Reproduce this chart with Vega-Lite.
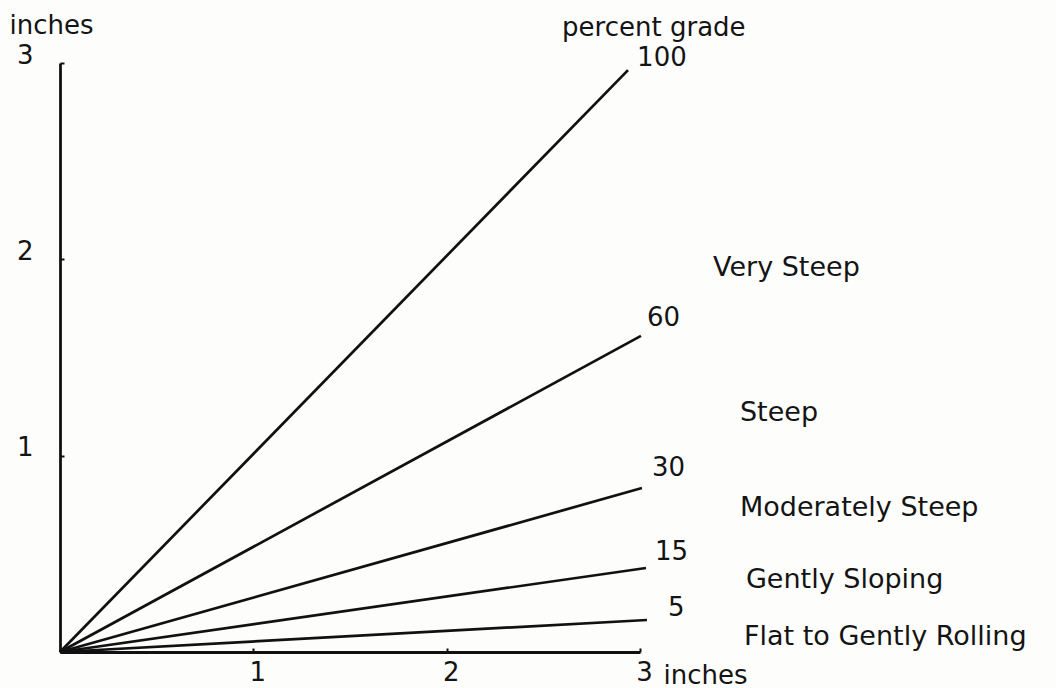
{
  "$schema": "https://vega.github.io/schema/vega-lite/v6.json",
  "width": 580,
  "height": 589,
  "autosize": {"type": "none"},
  "padding": {"left": 60, "top": 63, "right": 416, "bottom": 36},
  "background": "#fdfdfc",
  "config": {
    "view": {"stroke": null},
    "font": "DejaVu Sans",
    "text": {"font": "DejaVu Sans", "color": "#141414"}
  },
  "datasets": {
    "lines": [
      {"grade": "100", "x": 0, "y": 0}, {"grade": "100", "x": 2.938, "y": 2.964},
      {"grade": "60", "x": 0, "y": 0}, {"grade": "60", "x": 3.005, "y": 1.61},
      {"grade": "30", "x": 0, "y": 0}, {"grade": "30", "x": 3.01, "y": 0.835},
      {"grade": "15", "x": 0, "y": 0}, {"grade": "15", "x": 3.031, "y": 0.428},
      {"grade": "5", "x": 0, "y": 0}, {"grade": "5", "x": 3.036, "y": 0.163}
    ],
    "labels": [
      {"text": "percent grade", "x": 2.597, "y": 3.178, "kind": "num"},
      {"text": "100", "x": 2.985, "y": 3.026, "kind": "num"},
      {"text": "60", "x": 3.036, "y": 1.701, "kind": "num"},
      {"text": "30", "x": 3.062, "y": 0.937, "kind": "num"},
      {"text": "15", "x": 3.078, "y": 0.509, "kind": "num"},
      {"text": "5", "x": 3.145, "y": 0.224, "kind": "num"},
      {"text": "Very Steep", "x": 3.378, "y": 1.956, "kind": "class"},
      {"text": "Steep", "x": 3.517, "y": 1.217, "kind": "class"},
      {"text": "Moderately Steep", "x": 3.517, "y": 0.733, "kind": "class"},
      {"text": "Gently Sloping", "x": 3.548, "y": 0.367, "kind": "class"},
      {"text": "Flat to Gently Rolling", "x": 3.538, "y": 0.076, "kind": "class"}
    ]
  },
  "layer": [
    {
      "data": {"name": "lines"},
      "mark": {"type": "line", "color": "#111111", "strokeWidth": 2.7, "clip": false},
      "encoding": {
        "x": {
          "field": "x", "type": "quantitative",
          "scale": {"domain": [0, 3], "nice": false, "zero": true},
          "axis": {
            "values": [1, 2, 3], "format": "d", "grid": false,
            "domainColor": "#111111", "domainWidth": 2.8,
            "ticks": true, "tickSize": -4, "tickColor": "#111111", "tickWidth": 2,
            "labelFont": "DejaVu Sans", "labelFontSize": 26, "labelColor": "#141414",
            "labelBaseline": "middle", "labelPadding": 24, "labelOffset": 4,
            "labelFlush": false,
            "title": "inches", "titleFont": "DejaVu Sans", "titleFontSize": 26,
            "titleFontWeight": "normal", "titleColor": "#141414",
            "titleAnchor": "start", "titleAlign": "left", "titleBaseline": "middle",
            "titleX": 603, "titleY": 23
          }
        },
        "y": {
          "field": "y", "type": "quantitative",
          "scale": {"domain": [0, 3], "nice": false, "zero": true},
          "axis": {
            "values": [1, 2, 3], "format": "d", "grid": false,
            "domainColor": "#111111", "domainWidth": 2.8,
            "ticks": true, "tickSize": -4, "tickColor": "#111111", "tickWidth": 2,
            "labelFont": "DejaVu Sans", "labelFontSize": 26, "labelColor": "#141414",
            "labelPadding": 31, "labelOffset": -8, "labelFlush": false,
            "title": "inches", "titleFont": "DejaVu Sans", "titleFontSize": 26,
            "titleFontWeight": "normal", "titleColor": "#141414", "titleAngle": 0,
            "titleAlign": "center", "titleBaseline": "middle",
            "titleX": -9, "titleY": -38
          }
        },
        "detail": {"field": "grade", "type": "nominal"}
      }
    },
    {
      "data": {"name": "labels"},
      "mark": {"type": "text", "align": "left", "baseline": "middle", "clip": false},
      "encoding": {
        "x": {"field": "x", "type": "quantitative"},
        "y": {"field": "y", "type": "quantitative"},
        "text": {"field": "text", "type": "nominal"},
        "size": {
          "field": "kind", "type": "nominal",
          "scale": {"domain": ["num", "class"], "range": [26, 27]},
          "legend": null
        }
      }
    }
  ]
}
